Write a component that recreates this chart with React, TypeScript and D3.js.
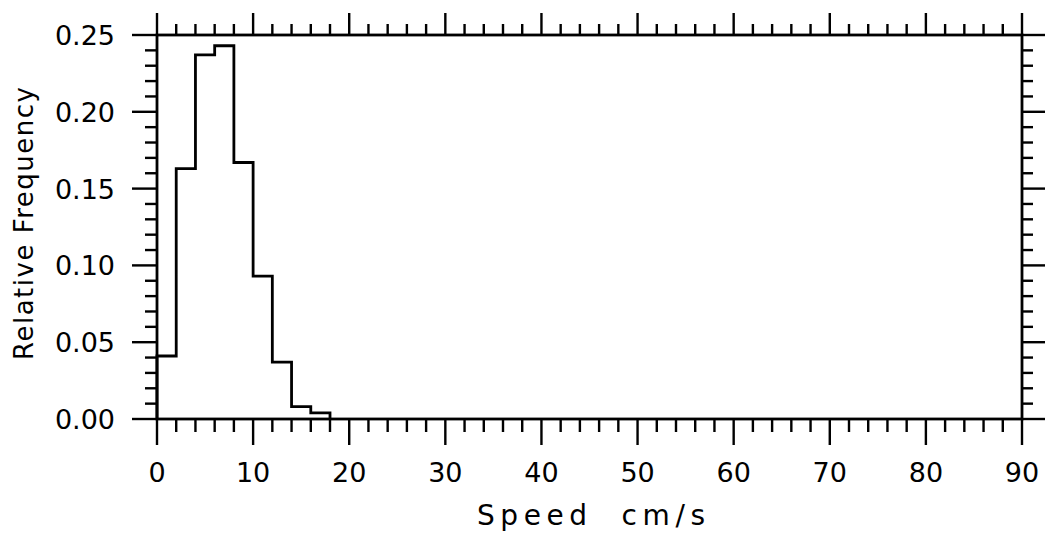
import React from "react";
import * as d3 from "d3";

const binEdges = [0, 2, 4, 6, 8, 10, 12, 14, 16, 18];
const binValues = [0.041, 0.163, 0.237, 0.243, 0.167, 0.093, 0.037, 0.008, 0.004];
const xTickLabels = [0, 10, 20, 30, 40, 50, 60, 70, 80, 90];
const yTickLabels = [0.0, 0.05, 0.1, 0.15, 0.2, 0.25];
const xTitle = "Speed  cm/s";
const yTitle = "Relative Frequency";

const W = 1048;
const H = 539;
const L = 157, R = 1022, T = 35, B = 419;

export default function App() {
  const x = d3.scaleLinear().domain([0, 90]).range([L, R]);
  const y = d3.scaleLinear().domain([0, 0.25]).range([B, T]);

  const xMinor = d3.range(0, 90.001, 2);
  const yMinor = d3.range(0, 0.25001, 0.01);

  let path = `M${x(binEdges[0])},${y(0)}`;
  binValues.forEach((v, i) => {
    path += `V${y(v)}H${x(binEdges[i + 1])}`;
  });
  path += `V${y(0)}`;

  const isMajorX = (v: number) => Math.abs(v / 10 - Math.round(v / 10)) < 1e-6;
  const isMajorY = (v: number) => Math.abs(v / 0.05 - Math.round(v / 0.05)) < 1e-6;

  const font = "'DejaVu Sans', sans-serif";
  const sw = 2.8;

  return (
    <svg width={W} height={H} style={{ position: "absolute", left: 0, top: 0 }}>
      <rect width={W} height={H} fill="#fff" />
      {/* frame */}
      <rect x={L} y={T} width={R - L} height={B - T} fill="none" stroke="#000" strokeWidth={sw} />
      {/* x ticks bottom and top */}
      {xMinor.map((v) => {
        const maj = isMajorX(v);
        return (
          <g key={"xt" + v}>
            <line x1={x(v)} x2={x(v)} y1={B} y2={B + (maj ? 26 : 13)} stroke="#000" strokeWidth={2.4} />
            <line x1={x(v)} x2={x(v)} y1={T} y2={T - (maj ? 22 : 11)} stroke="#000" strokeWidth={2.4} />
          </g>
        );
      })}
      {/* y ticks left and right */}
      {yMinor.map((v) => {
        const maj = isMajorY(v);
        return (
          <g key={"yt" + v.toFixed(2)}>
            <line x1={L} x2={L - (maj ? 25 : 12)} y1={y(v)} y2={y(v)} stroke="#000" strokeWidth={2.4} />
            <line x1={R} x2={R + (maj ? 23 : 11)} y1={y(v)} y2={y(v)} stroke="#000" strokeWidth={2.4} />
          </g>
        );
      })}
      {/* histogram */}
      <path d={path} fill="none" stroke="#000" strokeWidth={2.8} strokeLinejoin="miter" />
      {/* tick labels */}
      {xTickLabels.map((v) => (
        <text key={"xl" + v} x={x(v)} y={482} textAnchor="middle" fontFamily={font} fontSize={27} fill="#000">
          {v}
        </text>
      ))}
      {yTickLabels.map((v) => (
        <text
          key={"yl" + v}
          x={115}
          y={y(v) + 10}
          textAnchor="end"
          fontFamily={font}
          fontSize={27}
          fill="#000"
        >
          {v.toFixed(2)}
        </text>
      ))}
      {/* axis titles */}
      <text
        x={591}
        y={525}
        textAnchor="middle"
        fontFamily={font}
        fontSize={28}
        fill="#000"
        textLength={228}
        lengthAdjust="spacing"
        style={{ whiteSpace: "pre" }}
      >
        {xTitle}
      </text>
      <text
        transform={`translate(33,${(87 + 360) / 2}) rotate(-90)`}
        textAnchor="middle"
        fontFamily={font}
        fontSize={26}
        fill="#000"
        textLength={273}
        lengthAdjust="spacing"
      >
        {yTitle}
      </text>
    </svg>
  );
}
